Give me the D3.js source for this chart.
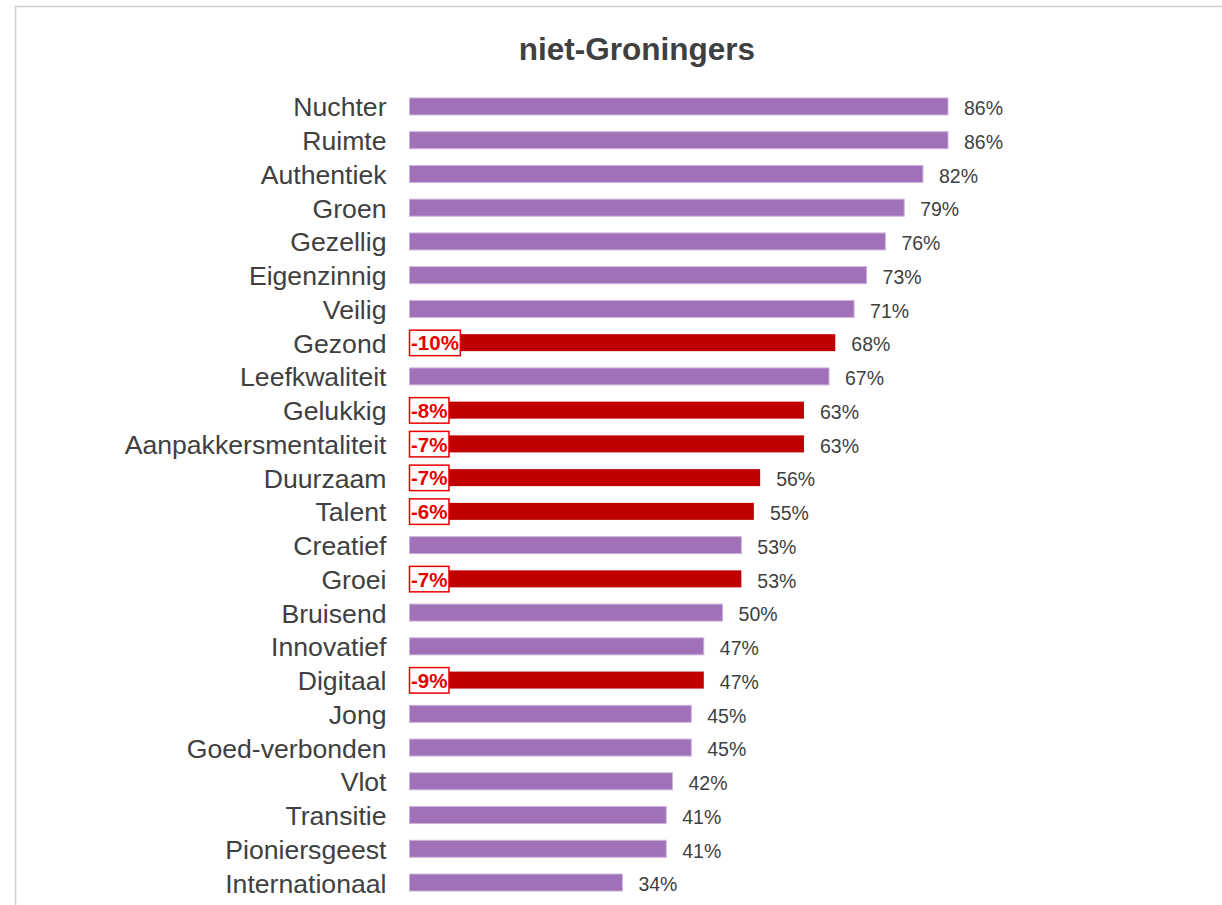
<!DOCTYPE html>
<html>
<head>
<meta charset="utf-8">
<script src="https://cdn.jsdelivr.net/npm/d3@7"></script>
<style>
  html, body { margin: 0; padding: 0; background: #fff; }
  svg { display: block; font-family: "Liberation Sans", Arial, sans-serif; }
</style>
</head>
<body>
<div id="chart"></div>
<script>
// data
const categories = [
  'Nuchter', 'Ruimte', 'Authentiek', 'Groen', 'Gezellig', 'Eigenzinnig',
  'Veilig', 'Gezond', 'Leefkwaliteit', 'Gelukkig', 'Aanpakkersmentaliteit',
  'Duurzaam', 'Talent', 'Creatief', 'Groei', 'Bruisend', 'Innovatief',
  'Digitaal', 'Jong', 'Goed-verbonden', 'Vlot', 'Transitie',
  'Pioniersgeest', 'Internationaal'
];
const values = [86, 86, 82, 79, 76, 73, 71, 68, 67, 63, 63, 56, 55, 53, 53, 50, 47, 47, 45, 45, 42, 41, 41, 34];
// change vs. previous measurement, only where flagged (null = none)
const changes = [null, null, null, null, null, null, null, -10, null, -8, -7, -7, -6, null, -7, null, null, -9, null, null, null, null, null, null];
const title = 'niet-Groningers';

const colors = {
  bar: '#A070B8',
  barStroke: '#CDB3DA',
  flagged: '#C00000',
  flagText: '#E60000',
  text: '#404040',
  frame: '#D0D0D0'
};

const W = 1222, H = 905;

const svg = d3.select('#chart').append('svg')
  .attr('width', W)
  .attr('height', H);

// outer frame (runs off the right and bottom edge)
svg.append('rect')
  .attr('x', 15.5).attr('y', 6.5)
  .attr('width', W + 50).attr('height', H + 50)
  .attr('fill', 'none')
  .attr('stroke', colors.frame)
  .attr('stroke-width', 1.5);

svg.append('text')
  .attr('x', 637).attr('y', 60)
  .attr('text-anchor', 'middle')
  .attr('font-size', 31.5)
  .attr('font-weight', 'bold')
  .attr('fill', colors.text)
  .text(title);

const x = d3.scaleLinear().domain([0, 86]).range([409.5, 948]);
const y = d3.scaleBand()
  .domain(categories)
  .range([89.6, 899.4])
  .paddingInner(0.496)
  .paddingOuter(0.248);

const rows = categories.map((c, i) => ({ cat: c, value: values[i], change: changes[i] }));

// category axis (labels a bit wider than the font gives, like the original)
const yAxis = svg.append('g')
  .attr('transform', `translate(${x(0)},0)`)
  .call(d3.axisLeft(y).tickSize(0).tickPadding(21.6));
yAxis.select('.domain').remove();
yAxis.selectAll('text')
  .attr('font-size', 25)
  .attr('font-family', '"Liberation Sans", Arial, sans-serif')
  .attr('fill', colors.text)
  .attr('dy', '0.4em')
  .attr('transform', 'scale(1.065,1)');

// bars
svg.append('g').selectAll('rect')
  .data(rows)
  .join('rect')
  .attr('x', x(0))
  .attr('y', d => y(d.cat))
  .attr('width', d => x(d.value) - x(0))
  .attr('height', y.bandwidth())
  .attr('fill', d => d.change != null ? colors.flagged : colors.bar)
  .attr('stroke', d => d.change != null ? 'none' : colors.barStroke)
  .attr('stroke-width', 1);

// value labels
svg.append('g').selectAll('text')
  .data(rows)
  .join('text')
  .attr('x', d => x(d.value) + 16)
  .attr('y', d => y(d.cat) + y.bandwidth() / 2)
  .attr('dy', '0.45em')
  .attr('font-size', 19.5)
  .attr('fill', colors.text)
  .text(d => d.value + '%');

// change flags
const flags = svg.append('g').selectAll('g')
  .data(rows.filter(d => d.change != null))
  .join('g')
  .attr('transform', d => `translate(${x(0)},${y(d.cat) + y.bandwidth() / 2})`);

flags.append('text')
  .attr('x', 1.5)
  .attr('dy', '0.38em')
  .attr('font-size', 20.5)
  .attr('font-weight', 'bold')
  .attr('fill', colors.flagText)
  .text(d => d.change + '%');

flags.each(function () {
  const g = d3.select(this);
  const bb = g.select('text').node().getBBox();
  g.insert('rect', 'text')
    .attr('x', 0)
    .attr('y', -12.5)
    .attr('width', bb.width + 3)
    .attr('height', 25.5)
    .attr('fill', '#fff')
    .attr('stroke', colors.flagText)
    .attr('stroke-width', 1.5);
});
</script>
</body>
</html>
